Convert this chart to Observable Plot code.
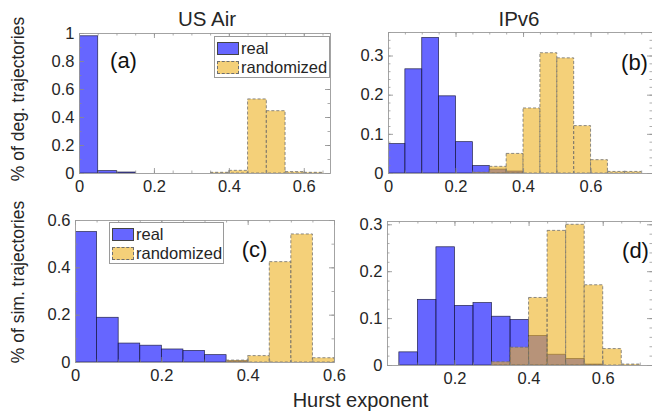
<!DOCTYPE html>
<html><head><meta charset="utf-8">
<script src="https://cdn.jsdelivr.net/npm/d3@7"></script>
<script src="https://cdn.jsdelivr.net/npm/@observablehq/plot@0.6"></script>
<style>
body{margin:0;background:#fff;}
#fig{position:relative;width:652px;height:411px;overflow:hidden;background:#fff;font-family:"Liberation Sans",Arial,Helvetica,sans-serif;color:#262626;}
.panel{position:absolute;}
.lab{position:absolute;white-space:nowrap;line-height:1;transform:translate(-50%,-50%);}
.rot{transform:translate(-50%,-50%) rotate(-90deg);}
.legend{position:absolute;border:1px solid #9a9a9a;background:#fff;font-size:16.5px;box-sizing:border-box;}
.row{position:absolute;left:0;height:20px;display:flex;align-items:center;white-space:nowrap;line-height:1;}
.sw{display:inline-block;width:22px;height:13px;margin:0 2px 0 2px;box-sizing:border-box;}
.swr{background:rgba(0,0,255,0.6);border:1px solid #444;}
.swy{background:rgba(237,177,32,0.6);border:1px dashed #6e6e6e;}
</style></head><body><div id="fig"></div>
<script>
const binWidth = 0.05;
// Panel (a) US Air, degree trajectories
const aRealBins = [0, 0.05, 0.10];
const aRealVals = [0.98, 0.017, 0.007];
const aRandBins = [0.35, 0.40, 0.45, 0.50, 0.55, 0.60];
const aRandVals = [0.005, 0.019, 0.529, 0.445, 0.010, 0.005];
// Panel (b) IPv6, degree trajectories
const bRealBins = [0, 0.05, 0.10, 0.15, 0.20, 0.25, 0.30, 0.35];
const bRealVals = [0.075, 0.266, 0.346, 0.197, 0.080, 0.019, 0.010, 0.005];
const bRandBins = [0.25, 0.30, 0.35, 0.40, 0.45, 0.50, 0.55, 0.60, 0.65, 0.70];
const bRandVals = [0.002, 0.017, 0.050, 0.166, 0.307, 0.294, 0.121, 0.034, 0.004, 0.004];
// Panel (c) US Air, similarity trajectories
const cRealBins = [0, 0.05, 0.10, 0.15, 0.20, 0.25, 0.30, 0.35];
const cRealVals = [0.551, 0.189, 0.080, 0.071, 0.055, 0.049, 0.031, 0.005];
const cRandBins = [0.35, 0.40, 0.45, 0.50, 0.55];
const cRandVals = [0.008, 0.027, 0.424, 0.541, 0.018];
// Panel (d) IPv6, similarity trajectories
const dRealBins = [0.05, 0.10, 0.15, 0.20, 0.25, 0.30, 0.35, 0.40, 0.45, 0.50, 0.55];
const dRealVals = [0.028, 0.140, 0.252, 0.127, 0.133, 0.104, 0.097, 0.063, 0.023, 0.014, 0.002];
const dRandBins = [0.30, 0.35, 0.40, 0.45, 0.50, 0.55, 0.60, 0.65];
const dRandVals = [0.007, 0.038, 0.144, 0.287, 0.300, 0.171, 0.035, 0.002];

const xTicksA = [0, 0.2, 0.4, 0.6];
const xTicksB = [0, 0.2, 0.4, 0.6];
const xTicksC = [0, 0.2, 0.4, 0.6];
const xTicksD = [0.2, 0.4, 0.6];
const yTicksA = [0, 0.2, 0.4, 0.6, 0.8, 1];
const yTicksB = [0, 0.1, 0.2, 0.3];
const yTicksC = [0, 0.2, 0.4, 0.6];
const yTicksD = [0, 0.1, 0.2, 0.3];

const titles = ["US Air", "IPv6"];
const yLabels = ["% of deg. trajectories", "% of sim. trajectories"];
const xLabel = "Hurst exponent";
const seriesNames = ["real", "randomized"];
const panelLetters = ["(a)", "(b)", "(c)", "(d)"];

const FONT = '"Liberation Sans", Arial, Helvetica, sans-serif';
const fig = document.getElementById("fig");

function bars(bins, vals) { return bins.map((lo, i) => ({lo, hi: lo + binWidth, v: vals[i]})); }
function inDom(arr, dom) { return arr.filter(d => d >= dom[0] - 1e-9 && d <= dom[1] + 1e-9); }

function makePanel(c) {
  const W = c.width - c.ml - c.mr, H = c.height - c.mt - c.mb;
  const ts = "#8a8a8a";
  const xMinor = inDom(d3.range(0, 1.0001, 0.05).map(v => +v.toFixed(2)), c.xDomain);
  const yMinor = inDom(d3.range(0, c.yDomain[1] + 1e-9, c.yMinorStep).map(v => +v.toFixed(3)), c.yDomain);
  const plot = Plot.plot({
    width: c.width, height: c.height,
    marginLeft: c.ml, marginRight: c.mr, marginTop: c.mt, marginBottom: c.mb,
    x: {domain: c.xDomain},
    y: {domain: c.yDomain},
    style: {fontFamily: FONT, fontSize: "16.5px", color: "#262626", background: "transparent", overflow: "visible"},
    marks: [
      Plot.rectY(bars(c.realBins, c.realVals), {x1: "lo", x2: "hi", y: "v", fill: "#0000ff", fillOpacity: 0.6, stroke: "#22224a", strokeWidth: 0.7, clip: true}),
      Plot.rectY(bars(c.randBins, c.randVals), {x1: "lo", x2: "hi", y: "v", fill: "#EDB120", fillOpacity: 0.6, stroke: "#6e6e6e", strokeWidth: 0.8, strokeDasharray: "3,2", clip: true}),
      Plot.tickX(xMinor, {x: d => d, insetTop: H - 2.5, stroke: ts, strokeWidth: 0.7}),
      Plot.tickX(xMinor, {x: d => d, insetBottom: H - 2.5, stroke: ts, strokeWidth: 0.7}),
      Plot.tickY(yMinor, {y: d => d, insetRight: W - 2.5, stroke: ts, strokeWidth: 0.7}),
      Plot.tickY(yMinor, {y: d => d, insetLeft: W - 2.5, stroke: ts, strokeWidth: 0.7}),
      Plot.tickX(c.xTicks, {x: d => d, insetTop: H - 5, stroke: ts, strokeWidth: 0.8}),
      Plot.tickX(c.xTicks, {x: d => d, insetBottom: H - 5, stroke: ts, strokeWidth: 0.8}),
      Plot.tickY(c.yTicks, {y: d => d, insetRight: W - 5, stroke: ts, strokeWidth: 0.8}),
      Plot.tickY(c.yTicks, {y: d => d, insetLeft: W - 5, stroke: ts, strokeWidth: 0.8}),
      Plot.frame({stroke: "#9a9a9a", strokeWidth: 0.9}),
      Plot.axisX({ticks: c.xTicks, tickSize: 0, tickPadding: 7, tickFormat: d => String(d), label: null, fontSize: 16.5}),
      Plot.axisY({ticks: c.yTicks, tickSize: 0, tickPadding: 5, tickFormat: d => String(d), label: null, fontSize: 16.5}),
      Plot.text([c.letter], {frameAnchor: c.letterAnchor, dx: c.ldx, dy: c.ldy, fontSize: 22, textAnchor: "middle", fill: "#111"})
    ]
  });
  plot.classList.add("panel");
  plot.style.left = c.left + "px";
  plot.style.top = c.top + "px";
  fig.appendChild(plot);
}

makePanel({left: 0, top: 0, width: 340, height: 205, ml: 79, mr: 10, mt: 33, mb: 32,
  xDomain: [0, 0.67], yDomain: [0, 1], xTicks: xTicksA, yTicks: yTicksA, yMinorStep: 0.1,
  realBins: aRealBins, realVals: aRealVals, randBins: aRandBins, randVals: aRandVals,
  letter: panelLetters[0], letterAnchor: "top-left", ldx: 44, ldy: 19});
makePanel({left: 340, top: 0, width: 312, height: 205, ml: 48, mr: 0, mt: 32, mb: 32,
  xDomain: [0, 0.782], yDomain: [0, 0.36], xTicks: xTicksB, yTicks: yTicksB, yMinorStep: 0.02,
  realBins: bRealBins, realVals: bRealVals, randBins: bRandBins, randVals: bRandVals,
  letter: panelLetters[1], letterAnchor: "top-right", ldx: -18, ldy: 22});
makePanel({left: 0, top: 205, width: 340, height: 185, ml: 75, mr: 6, mt: 15, mb: 28,
  xDomain: [0, 0.6], yDomain: [0, 0.6], xTicks: xTicksC, yTicks: yTicksC, yMinorStep: 0.1,
  realBins: cRealBins, realVals: cRealVals, randBins: cRandBins, randVals: cRandVals,
  letter: panelLetters[2], letterAnchor: "top-left", ldx: 179, ldy: 21});
makePanel({left: 340, top: 205, width: 312, height: 185, ml: 47, mr: 0, mt: 16, mb: 25,
  xDomain: [0.018, 0.733], yDomain: [0, 0.307], xTicks: xTicksD, yTicks: yTicksD, yMinorStep: 0.02,
  realBins: dRealBins, realVals: dRealVals, randBins: dRandBins, randVals: dRandVals,
  letter: panelLetters[3], letterAnchor: "top-right", ldx: -17, ldy: 21});

function label(text, x, y, size, rot) {
  const d = document.createElement("div");
  d.className = "lab" + (rot ? " rot" : "");
  d.textContent = text;
  d.style.left = x + "px"; d.style.top = y + "px"; d.style.fontSize = size + "px";
  fig.appendChild(d);
}
label(titles[0], 207, 19, 20.5);
label(titles[1], 519, 19, 20.5);
label(yLabels[0], 19, 99, 17.5, true);
label(yLabels[1], 19, 282, 17.5, true);
label(xLabel, 360.5, 400, 20);

function legend(x, y, w, h) {
  const L = document.createElement("div");
  L.className = "legend";
  Object.assign(L.style, {left: x + "px", top: y + "px", width: w + "px", height: h + "px"});
  seriesNames.forEach((name, i) => {
    const r = document.createElement("div");
    r.className = "row";
    r.style.top = (1 + i * 19.5) + "px";
    const s = document.createElement("span");
    s.className = "sw " + (i === 0 ? "swr" : "swy");
    r.appendChild(s);
    const t = document.createElement("span");
    t.textContent = name;
    r.appendChild(t);
    L.appendChild(r);
  });
  fig.appendChild(L);
}
legend(214, 36, 116, 42);
legend(109, 222, 115, 42);
</script></body></html>
